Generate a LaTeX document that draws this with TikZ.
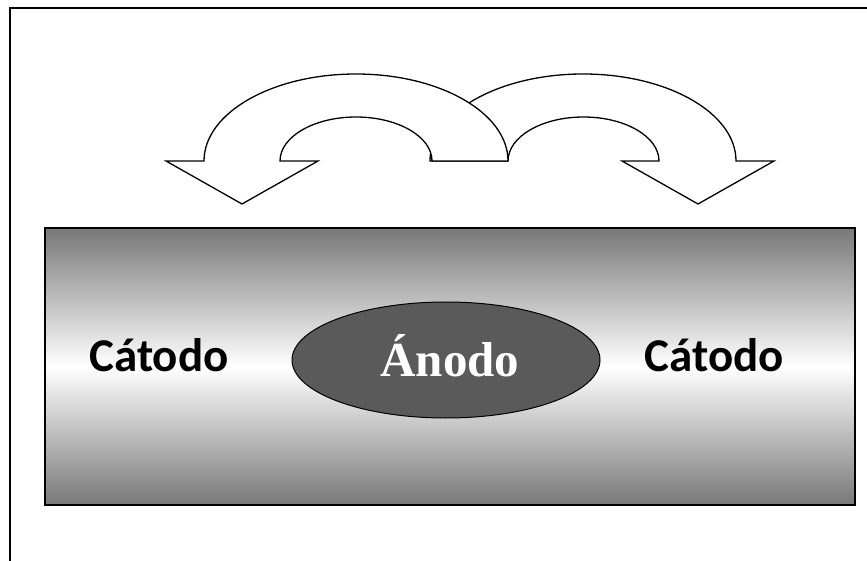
\documentclass[tikz,border=0pt]{standalone}
\usepackage{fontspec}
\usetikzlibrary{shapes.geometric}
\newfontfamily\carlitofont{Carlito}
\newfontfamily\timesfont{Liberation Serif}
\definecolor{anodefill}{HTML}{5A5A5A}
\begin{document}
\begin{tikzpicture}[x=1pt,y=1pt,
  frameline/.style={line width=2pt,draw=black},
  bigarrow/.style={fill=white,draw=black,line width=1.3pt,line join=miter},
  catlabel/.style={font={\carlitofont\bfseries\fontsize{47}{56}\selectfont},text=black,inner sep=0pt,anchor=base},
  anlabel/.style={font={\timesfont\bfseries\fontsize{49}{58}\selectfont},text=white,inner sep=0pt,anchor=base}]
\useasboundingbox (0,0) rectangle (867,560);
\fill[white] (0,0) rectangle (867,560);
% outer frame (only top and left edges visible)
\draw[frameline] (10,-5) -- (10,552) -- (875,552);
% gradient block
\node[draw=black,line width=1.8pt,minimum width=810pt,minimum height=277pt,inner sep=0pt,
  top color=black!53,bottom color=black!53,middle color=white] (block) at (450,193.5) {};
% anode ellipse
\node[ellipse,draw=black,line width=1pt,fill=anodefill,minimum width=308pt,minimum height=116pt,inner sep=0pt] (anode) at (446,200) {};
\node[anlabel] (anodetext) at (450,183) {Ánodo};
\node[catlabel] (catleft) at (159,189) {Cátodo};
\node[catlabel] (catright) at (714.5,189) {Cátodo};
% right curved arrow (behind)
\draw[bigarrow] (430,399) arc[start angle=180,end angle=0,x radius=153,y radius=87]
  -- (774,399) -- (698,356) -- (622,399) -- (659,399)
  arc[start angle=0,end angle=180,x radius=75.5,y radius=44] -- cycle;
% left curved arrow (front)
\draw[bigarrow] (508,399) arc[start angle=0,end angle=180,x radius=152,y radius=87]
  -- (166,399) -- (242,356) -- (318,399) -- (280,399)
  arc[start angle=180,end angle=0,x radius=76,y radius=44] -- cycle;
\end{tikzpicture}
\end{document}
